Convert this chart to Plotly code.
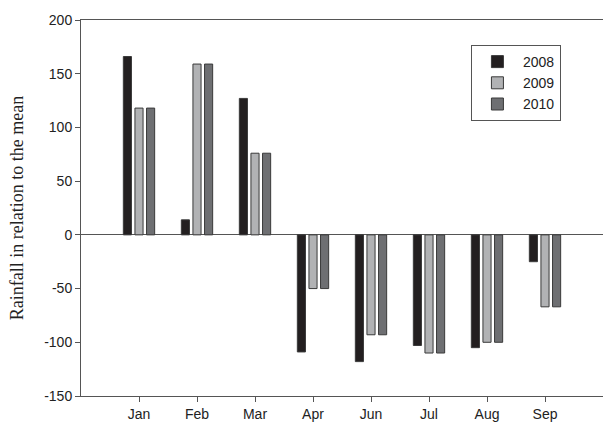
import plotly.graph_objects as go

months = ["Jan", "Feb", "Mar", "Apr", "Jun", "Jul", "Aug", "Sep"]
y2008 = [166, 14, 127, -109, -118, -103, -105, -25]
y2009 = [118, 159, 76, -50, -93, -110, -100, -67]
y2010 = [118, 159, 76, -50, -93, -110, -100, -67]
ytick_vals = [-150, -100, -50, 0, 50, 100, 150, 200]
ytick_text = ["-150", "-100", "-50", "0", "50", "100", "150", "200"]

series = [
    ("2008", y2008, "#231f20"),
    ("2009", y2009, "#b1b2b4"),
    ("2010", y2010, "#6e6f72"),
]

fig = go.Figure()
for name, vals, col in series:
    fig.add_trace(go.Bar(
        x=list(range(len(months))), y=vals, name=name,
        marker=dict(color=col, line=dict(color="#3a3a3a", width=1)),
    ))

axis_col = "#555555"
fig.update_layout(
    width=603, height=424,
    margin=dict(l=81, r=0, t=20, b=28, autoexpand=False),
    paper_bgcolor="white", plot_bgcolor="white",
    barmode="group", bargap=0.4, bargroupgap=0.3,
    font=dict(family="Liberation Sans, Arial", size=14, color="#222"),
    showlegend=True,
    legend=dict(
        x=0.747, y=0.9335, xanchor="left", yanchor="top",
        bordercolor="#555", borderwidth=1, bgcolor="white",
        font=dict(size=14, color="#222"),
        itemwidth=41,
        tracegroupgap=0,
    ),
    xaxis=dict(
        range=[-1, 8], tickmode="array",
        tickvals=list(range(len(months))), ticktext=months,
        showgrid=False, zeroline=False,
        showline=True, linecolor=axis_col, linewidth=1, mirror=True,
        ticks="outside", ticklen=5, tickcolor=axis_col,
        automargin=False,
    ),
    yaxis=dict(
        range=[-150, 200], tickmode="array",
        tickvals=ytick_vals, ticktext=ytick_text,
        showgrid=False,
        zeroline=True, zerolinecolor=axis_col, zerolinewidth=1,
        showline=True, linecolor=axis_col, linewidth=1,
        ticks="outside", ticklen=5, tickcolor=axis_col,
        automargin=False,
        title=dict(text="Rainfall in relation to the mean",
                   font=dict(family="Liberation Serif, Times New Roman", size=18, color="#222"),
                   standoff=15),
    ),
)

fig.write_html("out.html", config={"displayModeBar": False},
               post_script="document.body.style.margin='0';document.body.style.overflow='hidden';")
